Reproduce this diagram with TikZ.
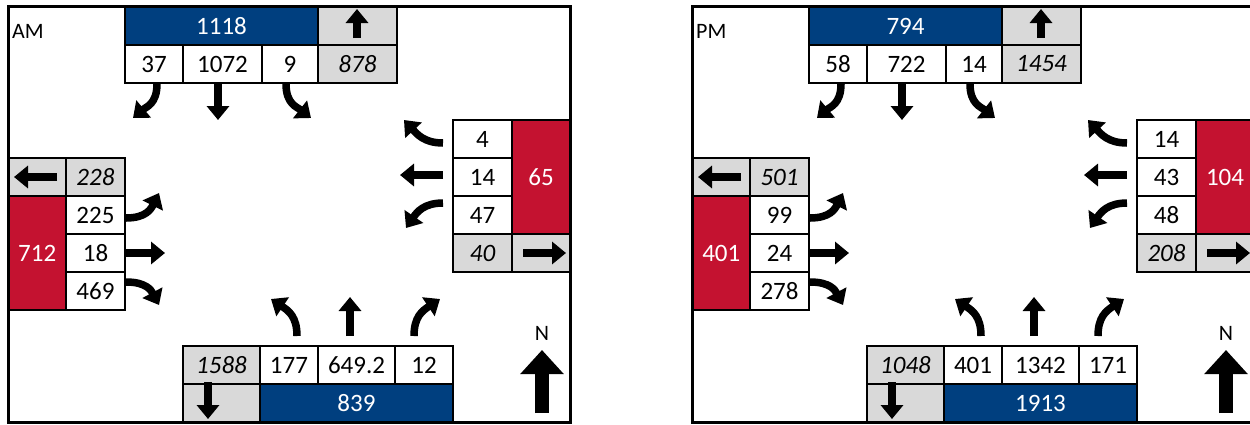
\documentclass[tikz,border=0pt]{standalone}
\usepackage{fontspec}
\setmainfont{Carlito}
\usetikzlibrary{arrows.meta}
\definecolor{tmcblue}{RGB}{0,63,127}
\definecolor{tmcred}{RGB}{196,18,48}
\definecolor{tmcgray}{RGB}{217,217,217}
\tikzset{
	cell/.style={draw, line width=2pt, inner sep=0pt,
		minimum width=58, minimum height=38,
		font=\fontsize{25}{30}\selectfont},
	blue total/.style={fill=tmcblue, text=white},
	red total/.style={fill=tmcred, text=white, minimum height=114},
	out total/.style={fill=tmcgray, font=\fontsize{25}{30}\selectfont\itshape},
	out box/.style={fill=tmcgray},
	panel/.style={draw, line width=3pt},
	period/.style={inner sep=0pt, font=\fontsize{22}{26}\selectfont},
	move/.style={line width=7.5pt, -{Triangle[width=22pt,length=14pt]}},
	north arrow/.style={line width=14pt, -{Triangle[width=42pt,length=24pt]}}
}
% #1 prefix, #2 x offset, #3 period, #4 sb, #5 eb, #6 wb, #7 nb
\newcommand{\tmcpanel}[7]{%
\begin{scope}[shift={(#2,0)}]
	\draw[panel] (8.5,6) rectangle (570,422);
	\node[period, anchor=west] (#1-period) at (12,31) {#3};
	% southbound
	\foreach \va/\vb/\vc/\vd/\ve in {#4} {
		\node[cell, blue total, minimum width=193] (#1-sb-in) at (221.5,26) {\va};
		\node[cell, out box, minimum width=79] (#1-sb-dir) at (357.5,26) {};
		\node[cell] (#1-sb-rt) at (154,64) {\vb};
		\node[cell, minimum width=79] (#1-sb-th) at (222.5,64) {\vc};
		\node[cell, minimum width=56] (#1-sb-lt) at (290,64) {\vd};
		\node[cell, out total, minimum width=79] (#1-sb-out) at (357.5,64) {\ve};
	}
	\draw[move] (357,38) -- (357,9);
	\draw[move] (157,84) .. controls (157,104) and (146,107) .. (133,118);
	\draw[move] (218,84) -- (218,120);
	\draw[move] (286,84) .. controls (286,104) and (297,107) .. (311,118);
	% eastbound
	\foreach \va/\vb/\vc/\vd/\ve in {#5} {
		\node[cell, out box, minimum width=57.5] (#1-eb-dir) at (37.25,177) {};
		\node[cell, out total, minimum width=59] (#1-eb-out) at (95.5,177) {\va};
		\node[cell, red total, minimum width=57.5] (#1-eb-in) at (37.25,253) {\vb};
		\node[cell, minimum width=59] (#1-eb-lt) at (95.5,215) {\vc};
		\node[cell, minimum width=59] (#1-eb-th) at (95.5,253) {\vd};
		\node[cell, minimum width=59] (#1-eb-rt) at (95.5,291) {\ve};
	}
	\draw[move] (57,177) -- (14,177);
	\draw[move] (126,218) .. controls (146,218) and (151,209) .. (159,193);
	\draw[move] (124,253) -- (165,253);
	\draw[move] (126,282) .. controls (146,282) and (151,290) .. (159,305);
	% westbound
	\foreach \va/\vb/\vc/\vd/\ve in {#6} {
		\node[cell, minimum width=59] (#1-wb-rt) at (482.5,139) {\va};
		\node[cell, minimum width=59] (#1-wb-th) at (482.5,177) {\vb};
		\node[cell, minimum width=59] (#1-wb-lt) at (482.5,215) {\vc};
		\node[cell, red total] (#1-wb-in) at (541,177) {\vd};
		\node[cell, out total, minimum width=59] (#1-wb-out) at (482.5,253) {\ve};
		\node[cell, out box] (#1-wb-dir) at (541,253) {};
	}
	\draw[move] (523,253) -- (566,253);
	\draw[move] (443,143) .. controls (424,143) and (417,134) .. (404,120);
	\draw[move] (443,175) -- (400,175);
	\draw[move] (443,203) .. controls (424,203) and (417,212) .. (406,228);
	% northbound
	\foreach \va/\vb/\vc/\vd/\ve in {#7} {
		\node[cell, out total, minimum width=77] (#1-nb-out) at (221.5,365) {\va};
		\node[cell] (#1-nb-lt) at (289,365) {\vb};
		\node[cell, minimum width=77] (#1-nb-th) at (356.5,365) {\vc};
		\node[cell] (#1-nb-rt) at (424,365) {\vd};
		\node[cell, out box, minimum width=77] (#1-nb-dir) at (221.5,403) {};
		\node[cell, blue total, minimum width=193] (#1-nb-in) at (356.5,403) {\ve};
	}
	\draw[move] (208,382) -- (208,419);
	\draw[move] (297,336) .. controls (297,317) and (289,311) .. (271,299);
	\draw[move] (350,336) -- (350,297);
	\draw[move] (414,336) .. controls (414,317) and (422,311) .. (440,299);
	% north
	\node[period] (#1-north) at (542,333) {N};
	\draw[north arrow] (542,413) -- (542,350);
\end{scope}}

\begin{document}
\begin{tikzpicture}[x=1pt, y=-1pt]
	\useasboundingbox (0,0) rectangle (1250,424);
	\tmcpanel{am}{0}{AM}{1118/37/1072/9/878}{228/712/225/18/469}{4/14/47/65/40}{1588/177/649.2/12/839}
	\tmcpanel{pm}{684}{PM}{794/58/722/14/1454}{501/401/99/24/278}{14/43/48/104/208}{1048/401/1342/171/1913}
\end{tikzpicture}
\end{document}
